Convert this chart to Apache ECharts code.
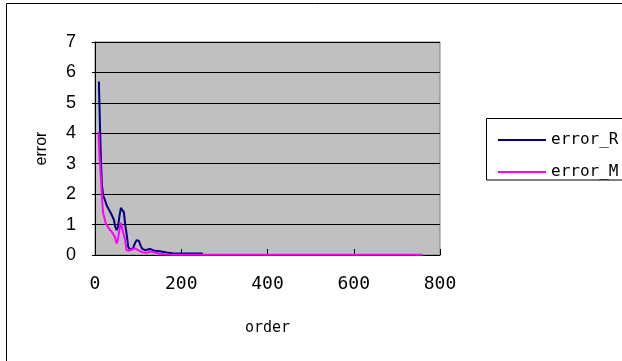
<!DOCTYPE html>
<html><head><meta charset="utf-8">
<script src="https://cdn.jsdelivr.net/npm/echarts@6/dist/echarts.min.js"></script>
<style>html,body{margin:0;padding:0;background:#fff;}#c{width:622px;height:361px;}</style>
</head><body><div id="c"></div>
<script>
var ordersR = [9,12,14,16,19,22,25,28,32,35,40,44,47,50,53,57,60,64,67,70,73,77,82,88,93,97,102,106,110,116,122,128,134,140,150,160,170,180,200,220,250];
var errorR = [5.7,4.0,3.0,2.3,1.95,1.85,1.8,1.6,1.5,1.42,1.28,1.15,0.93,0.82,0.9,1.3,1.55,1.5,1.4,1.0,0.72,0.27,0.16,0.22,0.4,0.49,0.46,0.3,0.2,0.16,0.18,0.2,0.16,0.14,0.12,0.1,0.07,0.06,0.05,0.05,0.05];
var ordersM = [8,10,14,17,19,25,32,39,46,50,53,57,60,63,66,70,73,78,86,93,98,104,112,120,128,139,150,166,200,300,400,500,600,700,760];
var errorM = [4.05,3.35,2.45,1.7,1.37,1.04,0.87,0.76,0.6,0.38,0.5,0.85,1.06,1.04,0.71,0.49,0.16,0.14,0.18,0.22,0.18,0.13,0.08,0.07,0.12,0.08,0.04,0.02,0.01,0.01,0.01,0.01,0.01,0.01,0.01];
var seriesNames = ['error_R','error_M'];
var xTitle = 'order', yTitle = 'error';

function pairs(xs, ys){ return xs.map(function(x,i){ return [x, ys[i]]; }); }

var chart = echarts.init(document.getElementById('c'), null, {renderer:'canvas'});
chart.setOption({
  animation:false,
  backgroundColor:'#fff',
  graphic:[
    {type:'rect', shape:{x:6.5,y:3.5,width:700,height:400}, style:{fill:'none',stroke:'#000',lineWidth:1}, z:-10},
    {type:'rect', shape:{x:486.5,y:118.5,width:200,height:61.5}, style:{fill:'#fff',stroke:'#000',lineWidth:1}, z:-5}
  ],
  grid:{left:95,top:42,right:182,bottom:106,show:true,backgroundColor:'#c0c0c0',borderColor:'#808080',borderWidth:1},
  legend:{
    orient:'vertical', left:493, top:127, itemWidth:48, itemHeight:2, itemGap:16,
    icon:'rect',
    textStyle:{fontFamily:'DejaVu Sans Mono',fontSize:16,color:'#000',lineHeight:16,padding:[0,0,0,0]},
    data:seriesNames
  },
  xAxis:{
    type:'value', min:0, max:800, interval:200,
    name:xTitle, nameLocation:'middle', nameGap:66,
    nameTextStyle:{fontFamily:'DejaVu Sans Mono',fontSize:15,color:'#000'},
    axisLine:{show:true,lineStyle:{color:'#000',width:1}},
    axisTick:{show:true,inside:true,length:6,lineStyle:{color:'#000'}},
    axisLabel:{fontFamily:'DejaVu Sans Mono',fontSize:18,color:'#000',margin:20},
    splitLine:{show:false}
  },
  yAxis:{
    type:'value', min:0, max:7, interval:1,
    name:yTitle, nameLocation:'middle', nameGap:45, nameRotate:90,
    nameTextStyle:{fontFamily:'Liberation Sans',fontSize:16,color:'#000'},
    axisLine:{show:true,lineStyle:{color:'#000',width:1}},
    axisTick:{show:true,length:3,lineStyle:{color:'#000'}},
    axisLabel:{fontFamily:'Liberation Sans',fontSize:18,color:'#000',margin:19},
    splitLine:{show:true,lineStyle:{color:'#000',width:1}}
  },
  series:[
    {name:seriesNames[0], type:'line', data:pairs(ordersR,errorR), showSymbol:false, symbol:'none',
     lineStyle:{color:'#000080',width:2}, itemStyle:{color:'#000080'}},
    {name:seriesNames[1], type:'line', data:pairs(ordersM,errorM), showSymbol:false, symbol:'none',
     lineStyle:{color:'#ff00ff',width:2}, itemStyle:{color:'#ff00ff'}}
  ]
});
</script></body></html>
